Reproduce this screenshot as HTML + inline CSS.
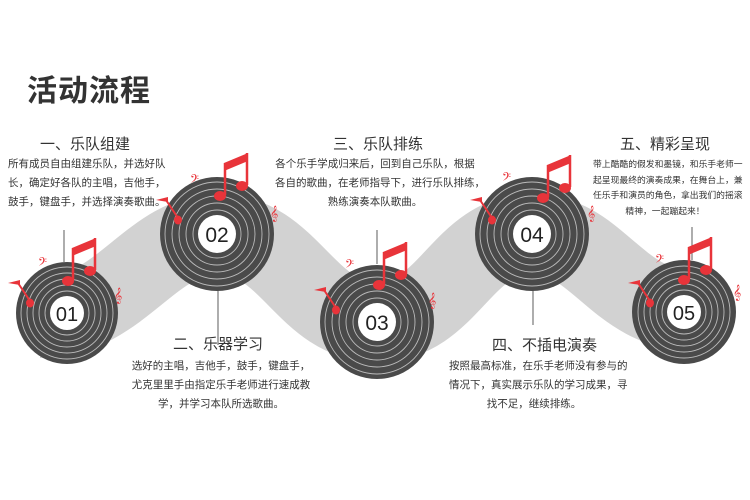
<!DOCTYPE html>
<html><head><meta charset="utf-8"><style>
body{margin:0;background:#fff;width:750px;height:500px;overflow:hidden;position:relative;font-family:"Liberation Sans","Noto Sans CJK SC",sans-serif;color:#333}
.t{position:absolute;font-size:30px;font-weight:bold;left:27px;top:66px;color:#333;letter-spacing:1px}
.h{position:absolute;font-size:15px;color:#333;text-align:center;white-space:nowrap}
.p{position:absolute;font-size:10.5px;line-height:19px;color:#333;text-align:center;white-space:nowrap}
svg{position:absolute;left:0;top:0}
</style></head><body>
<svg width="750" height="500">
<path d="M40,318 C120,318 150,234 218,234 C290,234 305,322 377,322 C450,322 460,234 532,234 C600,234 615,312 700,312" fill="none" stroke="#d2d2d2" stroke-width="80"/>
<g stroke="#333" stroke-width="0.8">
<line x1="64" y1="230" x2="64" y2="262"/><line x1="218" y1="290" x2="218" y2="345"/>
<line x1="377" y1="230" x2="377" y2="264"/><line x1="533" y1="290" x2="533" y2="325"/>
<line x1="692" y1="227" x2="692" y2="260"/>
</g>
</svg>
<div class="t">活动流程</div>
<div class="h" style="left:40px;top:133px">一、乐队组建</div>
<div class="p" style="left:8px;top:155px;text-align:left">所有成员自由组建乐队，并选好队<br>长，确定好各队的主唱，吉他手，<br>鼓手，键盘手，并选择演奏歌曲。</div>
<div class="h" style="left:173px;top:333px">二、乐器学习</div>
<div class="p" style="left:126px;top:357px;width:190px">选好的主唱，吉他手，鼓手，键盘手，<br>尤克里里手由指定乐手老师进行速成教<br>学，并学习本队所选歌曲。</div>
<div class="h" style="left:333px;top:133px">三、乐队排练</div>
<div class="p" style="left:275px;top:155px;width:200px">各个乐手学成归来后，回到自己乐队，根据<br>各自的歌曲，在老师指导下，进行乐队排练，<br>熟练演奏本队歌曲。</div>
<div class="h" style="left:492px;top:334px">四、不插电演奏</div>
<div class="p" style="left:449px;top:357px;width:170px">按照最高标准，在乐手老师没有参与的<br>情况下，真实展示乐队的学习成果，寻<br>找不足，继续排练。</div>
<div class="h" style="left:620px;top:133px">五、精彩呈现</div>
<div class="p" style="left:593px;top:157px;width:144px;font-size:8.8px;line-height:15.5px">带上酷酷的假发和墨镜，和乐手老师一<br>起呈现最终的演奏成果，在舞台上，兼<br>任乐手和演员的角色，拿出我们的摇滚<br>精神，一起蹦起来！</div>
<svg width="750" height="500">
<defs>
<g id="note" fill="#e8343a" stroke="#e8343a">
<polygon points="0,0 24,-10 24,-2 0,8" stroke="none"/>
<line x1="1" y1="0" x2="1" y2="32" stroke-width="2.5"/>
<line x1="23" y1="-10" x2="23" y2="22" stroke-width="2.5"/>
<ellipse cx="-4" cy="33" rx="6" ry="5" stroke="none"/>
<ellipse cx="18" cy="23" rx="6" ry="5" stroke="none"/>
</g>
<g id="sm" fill="#e8343a"><polygon points="-12,0 0,-3 0,2"/><line x1="-2" y1="0" x2="10" y2="18" stroke="#e8343a" stroke-width="2"/><ellipse cx="10" cy="20" rx="4" ry="4.5"/></g>
</defs>
<g transform="translate(67,313)">
<circle r="51" fill="#4a4a4a"/><g fill="none" stroke="#bbb" stroke-width="0.9"><circle r="22"/><circle r="28"/><circle r="34"/><circle r="40"/><circle r="46"/></g><circle r="17" fill="#fff"/>
<text x="0" y="8" text-anchor="middle" font-size="20" fill="#222" font-family="Liberation Sans">01</text></g>
<g transform="translate(217,234)">
<circle r="57" fill="#4a4a4a"/><g fill="none" stroke="#bbb" stroke-width="0.9"><circle r="24"/><circle r="31"/><circle r="38"/><circle r="45"/><circle r="52"/></g><circle r="19" fill="#fff"/>
<text x="0" y="8" text-anchor="middle" font-size="21" fill="#222" font-family="Liberation Sans">02</text></g>
<g transform="translate(377,322)">
<circle r="57" fill="#4a4a4a"/><g fill="none" stroke="#bbb" stroke-width="0.9"><circle r="24"/><circle r="31"/><circle r="38"/><circle r="45"/><circle r="52"/></g><circle r="19" fill="#fff"/>
<text x="0" y="8" text-anchor="middle" font-size="21" fill="#222" font-family="Liberation Sans">03</text></g>
<g transform="translate(532,234)">
<circle r="57" fill="#4a4a4a"/><g fill="none" stroke="#bbb" stroke-width="0.9"><circle r="24"/><circle r="31"/><circle r="38"/><circle r="45"/><circle r="52"/></g><circle r="19" fill="#fff"/>
<text x="0" y="8" text-anchor="middle" font-size="21" fill="#222" font-family="Liberation Sans">04</text></g>
<g transform="translate(684,312)">
<circle r="52" fill="#4a4a4a"/><g fill="none" stroke="#bbb" stroke-width="0.9"><circle r="22"/><circle r="28"/><circle r="34"/><circle r="40"/><circle r="46"/></g><circle r="17" fill="#fff"/>
<text x="0" y="8" text-anchor="middle" font-size="20" fill="#222" font-family="Liberation Sans">05</text></g>
<g fill="#e8343a" font-family="DejaVu Sans">
<use href="#note" x="72" y="248"/><use href="#note" x="224" y="163"/><use href="#note" x="383" y="252"/><use href="#note" x="547" y="165"/><use href="#note" x="688" y="247"/>
<use href="#sm" x="20" y="283"/><use href="#sm" x="168" y="200"/><use href="#sm" x="326" y="290"/><use href="#sm" x="482" y="200"/><use href="#sm" x="640" y="283"/>
<text x="38" y="268" font-size="14">𝄢</text><text x="190" y="185" font-size="14">𝄢</text><text x="345" y="270" font-size="14">𝄢</text><text x="502" y="183" font-size="14">𝄢</text><text x="655" y="265" font-size="14">𝄢</text>
<text x="114" y="300" font-size="14">𝄞</text><text x="270" y="218" font-size="14">𝄞</text><text x="428" y="305" font-size="14">𝄞</text><text x="587" y="218" font-size="14">𝄞</text><text x="733" y="297" font-size="14">𝄞</text>
</g>
</svg>
</body></html>
